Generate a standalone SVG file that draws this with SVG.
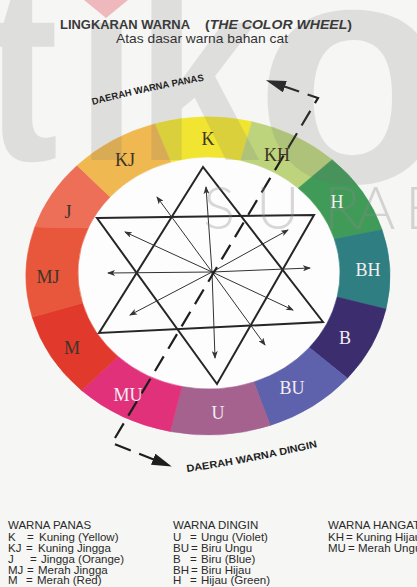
<svg xmlns="http://www.w3.org/2000/svg" width="417" height="587" viewBox="0 0 417 587">
<style>
.seg{stroke-width:0.6}
.lbl{font-family:"Liberation Serif","Times New Roman",serif;font-size:18px;text-anchor:middle}
.dk{fill:#3c3528}
.lt{fill:#f2eef2}
.leg{font-family:"Liberation Sans",Arial,sans-serif;font-size:11.5px;fill:#2a2a2a}
.zone{font-family:"Liberation Sans",Arial,sans-serif;font-weight:bold;fill:#1e1e1e}
.thin{stroke:#333;stroke-width:1;fill:none;marker-end:url(#ah)}
.star{fill:none;stroke:#262626;stroke-width:2;stroke-linejoin:miter}
.wm{font-family:"Liberation Sans",Arial,sans-serif;font-weight:bold;fill:#707070;opacity:0.17}
</style>
<defs>
<marker id="ah" viewBox="0 0 8 6" refX="7" refY="3" markerWidth="8" markerHeight="6" markerUnits="userSpaceOnUse" orient="auto">
<path d="M0,0 L8,3 L0,6 L2,3 z" fill="#333"/>
</marker>
<marker id="big" viewBox="0 0 20 12" refX="2" refY="6" markerWidth="20" markerHeight="12" markerUnits="userSpaceOnUse" orient="auto-start-reverse">
<path d="M0,0 L20,6 L0,12 z" fill="#1e1e1e"/>
</marker>
</defs>
<rect width="417" height="587" fill="#f6f6f4"/>

<g id="wheel">
<ellipse cx="209" cy="273" rx="131" ry="116" fill="#fdfdfd"/>
<path id="seg-K" class="seg" fill="#f1e531" stroke="#f1e531" d="M154.8,123.9 A182,159 0 0 1 252.0,121.7 L240.7,160.4 A131,116 0 0 0 170.7,162.1 Z"/>
<path id="seg-KH" class="seg" fill="#bdd47c" stroke="#bdd47c" d="M252.0,121.7 A182,159 0 0 1 332.1,159.7 L298.3,188.2 A131,116 0 0 0 240.7,160.4 Z"/>
<path id="seg-H" class="seg" fill="#409b58" stroke="#409b58" d="M332.1,159.7 A182,159 0 0 1 382.0,229.5 L334.3,239.1 A131,116 0 0 0 298.3,188.2 Z"/>
<path id="seg-BH" class="seg" fill="#2f7f82" stroke="#2f7f82" d="M382.0,229.5 A182,159 0 0 1 386.0,309.1 L337.1,297.1 A131,116 0 0 0 334.3,239.1 Z"/>
<path id="seg-B" class="seg" fill="#3b2d6e" stroke="#3b2d6e" d="M386.0,309.1 A182,159 0 0 1 347.4,378.2 L309.3,347.6 A131,116 0 0 0 337.1,297.1 Z"/>
<path id="seg-BU" class="seg" fill="#5e62ac" stroke="#5e62ac" d="M347.4,378.2 A182,159 0 0 1 270.2,425.4 L253.8,382.0 A131,116 0 0 0 309.3,347.6 Z"/>
<path id="seg-U" class="seg" fill="#a5628e" stroke="#a5628e" d="M270.2,425.4 A182,159 0 0 1 170.2,431.5 L181.8,386.5 A131,116 0 0 0 253.8,382.0 Z"/>
<path id="seg-MU" class="seg" fill="#e0317a" stroke="#e0317a" d="M170.2,431.5 A182,159 0 0 1 81.6,390.4 L118.0,356.4 A131,116 0 0 0 181.8,386.5 Z"/>
<path id="seg-M" class="seg" fill="#e2392d" stroke="#e2392d" d="M81.6,390.4 A182,159 0 0 1 32.2,317.1 L82.5,303.0 A131,116 0 0 0 118.0,356.4 Z"/>
<path id="seg-MJ" class="seg" fill="#e8563b" stroke="#e8563b" d="M32.2,317.1 A182,159 0 0 1 34.9,226.9 L88.4,227.7 A131,116 0 0 0 82.5,303.0 Z"/>
<path id="seg-J" class="seg" fill="#ed6f58" stroke="#ed6f58" d="M34.9,226.9 A182,159 0 0 1 77.1,165.5 L110.1,196.9 A131,116 0 0 0 88.4,227.7 Z"/>
<path id="seg-KJ" class="seg" fill="#efb850" stroke="#efb850" d="M77.1,165.5 A182,159 0 0 1 154.8,123.9 L170.7,162.1 A131,116 0 0 0 110.1,196.9 Z"/>
</g>

<g id="star">
<polygon class="star" points="203,167 99,333 323,322"/>
<polygon class="star" points="97,218 314,215 217,384"/>
</g>

<g id="connectors">
<line class="thin" x1="212" y1="272" x2="206" y2="187"/>
<line class="thin" x1="212" y1="272" x2="157" y2="197"/>
<line class="thin" x1="212" y1="272" x2="125" y2="232"/>
<line class="thin" x1="212" y1="272" x2="108" y2="273"/>
<line class="thin" x1="212" y1="272" x2="130" y2="315"/>
<line class="thin" x1="212" y1="272" x2="215" y2="358"/>
<line class="thin" x1="212" y1="272" x2="265" y2="345"/>
<line class="thin" x1="212" y1="272" x2="293" y2="310"/>
<line class="thin" x1="212" y1="272" x2="310" y2="268"/>
<line class="thin" x1="212" y1="272" x2="288" y2="230"/>
<path d="M283,86 L318,98 L112,443 L155,460" fill="none" stroke="#1e1e1e" stroke-width="2.2" stroke-dasharray="17 9" marker-start="url(#big)" marker-end="url(#big)"/>
</g>

<g id="watermark">
<text class="wm" y="160" transform="scale(0.85,1)" font-size="260"><tspan x="-18">t</tspan><tspan x="89">ı</tspan><tspan x="160">k</tspan></text>
<text class="wm" x="255" y="182" font-size="320">o</text>
<polygon points="84,0 128,0 106,18" fill="#eda9ae" opacity="0.8"/>
<text y="229" font-family="Lato,'Liberation Sans',sans-serif" font-weight="300" font-size="60" fill="#888" opacity="0.32"><tspan x="203">S</tspan><tspan x="256">U</tspan><tspan x="324">R</tspan><tspan x="356">A</tspan><tspan x="405">B</tspan></text>
</g>

<g id="labels">
<text class="lbl dk" x="208" y="145">K</text>
<text class="lbl dk" x="125" y="166">KJ</text>
<text class="lbl dk" x="277" y="161">KH</text>
<text class="lbl lt" x="337" y="208">H</text>
<text class="lbl lt" x="368" y="276">BH</text>
<text class="lbl lt" x="345" y="344">B</text>
<text class="lbl lt" x="292" y="394">BU</text>
<text class="lbl lt" x="218" y="419">U</text>
<text class="lbl lt" x="128" y="401">MU</text>
<text class="lbl dk" x="72" y="354">M</text>
<text class="lbl dk" x="48" y="283">MJ</text>
<text class="lbl dk" x="68" y="218">J</text>
</g>

<g id="title">
<text x="60" y="29" font-family="Liberation Sans,Arial,sans-serif" font-weight="bold" font-size="13" fill="#3a3a3a" textLength="130" lengthAdjust="spacingAndGlyphs">LINGKARAN WARNA</text>
<text x="205" y="29" font-family="Liberation Sans,Arial,sans-serif" font-weight="bold" font-size="13" fill="#3a3a3a" textLength="147" lengthAdjust="spacingAndGlyphs">(<tspan font-style="italic">THE COLOR WHEEL</tspan>)</text>
<text x="116" y="43" font-family="Liberation Sans,Arial,sans-serif" font-size="13" fill="#333" textLength="172" lengthAdjust="spacingAndGlyphs">Atas dasar warna bahan cat</text>
</g>

<g id="zones">
<path id="pPanas" d="M93,105 Q140,92 208,80" fill="none"/>
<path id="pDingin" d="M187,472 Q250,463 322,446" fill="none"/>
<text class="zone" font-size="9.5"><textPath href="#pPanas" textLength="114" lengthAdjust="spacingAndGlyphs">DAERAH WARNA PANAS</textPath></text>
<text class="zone" font-size="10"><textPath href="#pDingin" textLength="133" lengthAdjust="spacingAndGlyphs">DAERAH WARNA DINGIN</textPath></text>
</g>

<g id="legend">
<text class="leg" x="8" y="529">WARNA PANAS</text>
<text class="leg" y="541"><tspan x="8">K</tspan><tspan x="27">=</tspan><tspan x="39">Kuning (Yellow)</tspan></text>
<text class="leg" y="552"><tspan x="8">KJ</tspan><tspan x="26">=</tspan><tspan x="38">Kuning Jingga</tspan></text>
<text class="leg" y="563"><tspan x="8">J</tspan><tspan x="30">=</tspan><tspan x="41">Jingga (Orange)</tspan></text>
<text class="leg" y="573.5"><tspan x="8">MJ</tspan><tspan x="27">=</tspan><tspan x="38">Merah Jingga</tspan></text>
<text class="leg" y="584"><tspan x="8">M</tspan><tspan x="26">=</tspan><tspan x="37">Merah (Red)</tspan></text>

<text class="leg" x="173" y="529">WARNA DINGIN</text>
<text class="leg" y="541"><tspan x="173">U</tspan><tspan x="190">=</tspan><tspan x="201">Ungu (Violet)</tspan></text>
<text class="leg" y="552"><tspan x="173">BU</tspan><tspan x="191">=</tspan><tspan x="201">Biru Ungu</tspan></text>
<text class="leg" y="563"><tspan x="173">B</tspan><tspan x="190">=</tspan><tspan x="201">Biru (Blue)</tspan></text>
<text class="leg" y="573.5"><tspan x="173">BH</tspan><tspan x="191">=</tspan><tspan x="201">Biru Hijau</tspan></text>
<text class="leg" y="584"><tspan x="173">H</tspan><tspan x="190">=</tspan><tspan x="201">Hijau (Green)</tspan></text>

<text class="leg" x="328" y="529">WARNA HANGAT</text>
<text class="leg" y="541"><tspan x="328">KH</tspan><tspan x="346">=</tspan><tspan x="356">Kuning Hijau</tspan></text>
<text class="leg" y="552"><tspan x="328">MU</tspan><tspan x="348">=</tspan><tspan x="358">Merah Ungu</tspan></text>
</g>
</svg>
